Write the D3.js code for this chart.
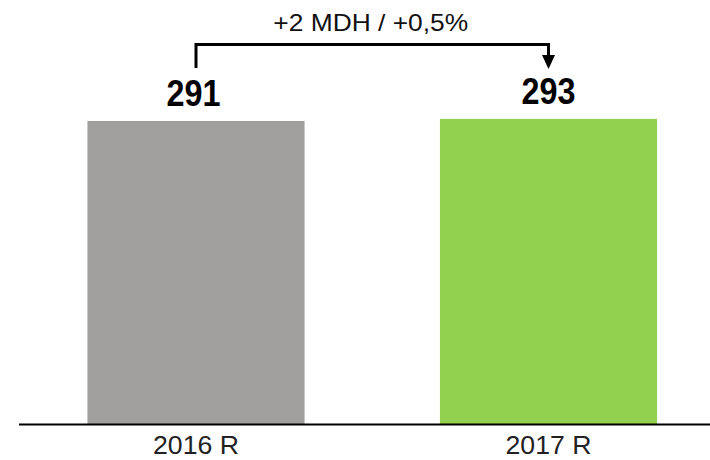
<!DOCTYPE html>
<html>
<head>
<meta charset="utf-8">
<script src="https://cdn.jsdelivr.net/npm/d3@7"></script>
<style>
  body { margin: 0; background: #fff; }
  svg { display: block; font-family: "Liberation Sans", Arial, sans-serif; }
</style>
</head>
<body>
<div id="chart"></div>
<script>
// Data
const categories = ["2016 R", "2017 R"];
const values = [291, 293];
const barColors = ["#a19f9d", "#92d050"];
const deltaLabel = "+2 MDH / +0,5%";

const svgWidth = 710;
const svgHeight = 460;
const baseY = 424;

const svg = d3.select("#chart")
  .append("svg")
  .attr("width", svgWidth)
  .attr("height", svgHeight);

// Scales
const x = d3.scaleBand()
  .domain(categories)
  .range([19.75, 724.75])
  .paddingInner(0.384)
  .paddingOuter(0.192);

const y = d3.scaleLinear()
  .domain([0, 300])
  .range([baseY, baseY - 312.4]);

const cx = d => x(d) + x.bandwidth() / 2;

// Bars
svg.append("g")
  .selectAll("rect")
  .data(categories)
  .enter()
  .append("rect")
  .attr("x", d => x(d))
  .attr("y", (d, i) => y(values[i]))
  .attr("width", x.bandwidth())
  .attr("height", (d, i) => y(0) - y(values[i]))
  .attr("fill", (d, i) => barColors[i]);

// Category axis (labels only)
const xAxis = d3.axisBottom(x).tickSize(0);

const xAxisG = svg.append("g")
  .attr("transform", `translate(0, ${baseY})`)
  .call(xAxis);

xAxisG.select(".domain").remove();
xAxisG.selectAll("text")
  .attr("font-family", "Liberation Sans, Arial, sans-serif")
  .attr("font-size", 26)
  .attr("fill", "#222")
  .attr("dy", null)
  .attr("y", 30)
  .attr("textLength", 86)
  .attr("lengthAdjust", "spacingAndGlyphs");

// baseline
svg.append("line")
  .attr("x1", 19).attr("x2", svgWidth)
  .attr("y1", baseY + 0.5).attr("y2", baseY + 0.5)
  .attr("stroke", "#000")
  .attr("stroke-width", 2);

// Value labels
svg.append("g")
  .selectAll("text")
  .data(categories)
  .enter()
  .append("text")
  .attr("x", (d, i) => cx(d) - (i === 0 ? 2.5 : 0))
  .attr("y", (d, i) => y(values[i]) - 15)
  .attr("text-anchor", "middle")
  .attr("font-size", 36)
  .attr("font-weight", "bold")
  .attr("fill", "#000")
  .attr("textLength", 54)
  .attr("lengthAdjust", "spacingAndGlyphs")
  .text((d, i) => values[i]);

// Difference bracket with arrow
const x0 = cx(categories[0]);
const x1 = cx(categories[1]);
const topY = 44.5;

svg.append("path")
  .attr("d", `M${x0},68 V${topY} H${x1} V57`)
  .attr("fill", "none")
  .attr("stroke", "#000")
  .attr("stroke-width", 3);

svg.append("path")
  .attr("d", `M${x1 - 6.5},55 L${x1 + 6.5},55 L${x1},69 Z`)
  .attr("fill", "#000");

svg.append("text")
  .attr("x", (x0 + x1) / 2 - 1.5)
  .attr("y", 31)
  .attr("text-anchor", "middle")
  .attr("font-size", 24)
  .attr("fill", "#111")
  .attr("textLength", 195)
  .attr("lengthAdjust", "spacingAndGlyphs")
  .text(deltaLabel);
</script>
</body>
</html>
